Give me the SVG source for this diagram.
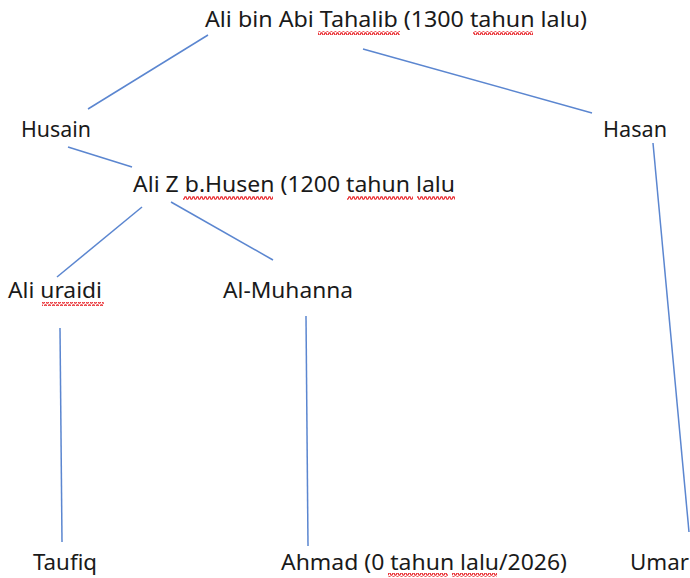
<svg xmlns="http://www.w3.org/2000/svg" width="690" height="578" viewBox="0 0 690 578">
<defs>
<pattern id="squig" x="0" y="0" width="4" height="4" patternUnits="userSpaceOnUse">
<polyline points="0,3.2 1,0.8 2,0.8 3,3.2 4,3.2" fill="none" stroke="#e8262b" stroke-width="1.2"/>
</pattern>
</defs>
<style>
.t{font-family:"Noto Sans","Open Sans","Liberation Sans",sans-serif;font-size:22px;fill:#1a1a1a}
.c line{stroke:#5b86d0;stroke-width:1.5;fill:none}
.sq{fill:url(#squig)}
</style>
<rect width="690" height="578" fill="#ffffff"/>
<g class="c" id="connectors">
<line x1="208" y1="35" x2="88" y2="109"/>
<line x1="363" y1="49" x2="592" y2="113"/>
<line x1="68" y1="147" x2="132" y2="167"/>
<line x1="142" y1="207" x2="57" y2="277"/>
<line x1="171" y1="202" x2="273" y2="260"/>
<line x1="653" y1="143" x2="689" y2="532"/>
<line x1="60" y1="328" x2="62" y2="542"/>
<line x1="306" y1="316" x2="308" y2="546"/>
</g>
<g id="ali-bin-abi-tahalib">
<text class="t" x="205" y="27" textLength="382" lengthAdjust="spacingAndGlyphs">Ali bin Abi Tahalib (1300 tahun lalu)</text>
<rect class="sq" x="318" y="31" width="82" height="4"/>
<rect class="sq" x="473" y="31" width="60" height="4"/>
</g>
<g id="husain">
<text class="t" x="21" y="137" textLength="70" lengthAdjust="spacingAndGlyphs">Husain</text>
</g>
<g id="hasan">
<text class="t" x="603" y="137" textLength="64" lengthAdjust="spacingAndGlyphs">Hasan</text>
</g>
<g id="ali-z">
<text class="t" x="133" y="192" textLength="322" lengthAdjust="spacingAndGlyphs">Ali Z b.Husen (1200 tahun lalu</text>
<rect class="sq" x="183" y="196" width="90" height="4"/>
<rect class="sq" x="347" y="196" width="66" height="4"/>
<rect class="sq" x="417" y="196" width="38" height="4"/>
</g>
<g id="ali-uraidi">
<text class="t" x="8" y="298" textLength="94" lengthAdjust="spacingAndGlyphs">Ali uraidi</text>
<rect class="sq" x="42" y="302" width="62" height="4"/>
</g>
<g id="al-muhanna">
<text class="t" x="223" y="298" textLength="130" lengthAdjust="spacingAndGlyphs">Al-Muhanna</text>
</g>
<g id="taufiq">
<text class="t" x="33" y="570" textLength="64" lengthAdjust="spacingAndGlyphs">Taufiq</text>
</g>
<g id="ahmad">
<text class="t" x="281" y="570" textLength="286" lengthAdjust="spacingAndGlyphs">Ahmad (0 tahun lalu/2026)</text>
<rect class="sq" x="388" y="573" width="60" height="4"/>
<rect class="sq" x="452" y="573" width="45" height="4"/>
</g>
<g id="umar">
<text class="t" x="630" y="570" textLength="59" lengthAdjust="spacingAndGlyphs">Umar</text>
</g>
</svg>
